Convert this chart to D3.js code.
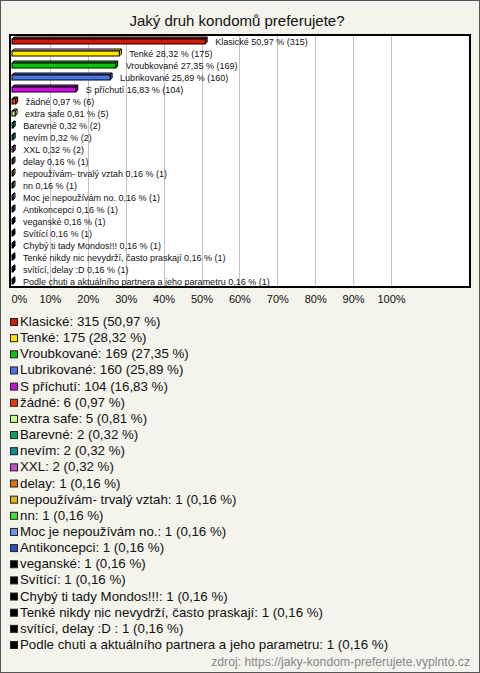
<!DOCTYPE html>
<html><head><meta charset="utf-8">
<script src="https://cdn.jsdelivr.net/npm/d3@7"></script>
<style>body{margin:0;background:#fff}svg{display:block}</style>
</head><body><svg id="c" width="480" height="673"></svg>
<script>
const title = "Jaký druh kondomů preferujete?";
const categories = ["Klasické","Tenké","Vroubkované","Lubrikované","S příchutí","žádné","extra safe","Barevné","nevím","XXL","delay","nepoužívám- trvalý vztah","nn","Moc je nepoužívám no.","Antikoncepci","veganské","Svítící","Chybý ti tady Mondos!!!","Tenké nikdy nic nevydrží, často praskají","svítící, delay :D ","Podle chuti a aktuálního partnera a jeho parametru"];
const counts = [315,175,169,160,104,6,5,2,2,2,1,1,1,1,1,1,1,1,1,1,1];
const percents = ["50,97","28,32","27,35","25,89","16,83","0,97","0,81","0,32","0,32","0,32","0,16","0,16","0,16","0,16","0,16","0,16","0,16","0,16","0,16","0,16","0,16"];
const colors = ["#c41e0c","#ffe600","#12c012","#4a76e4","#c414d6","#e23e12","#c6fc8e","#12a062","#128a98","#c250c4","#e07212","#e6b212","#42e432","#6a98e8","#2a52b8","#000","#000","#000","#000","#000","#000"];
const tickValues = [0,10,20,30,40,50,60,70,80,90,100];
const source = "zdroj: https://jaky-kondom-preferujete.vyplnto.cz";

const svg = d3.select("#c");
const font = "'Liberation Sans', Arial, sans-serif";
svg.append("rect").attr("x",0.5).attr("y",0.5).attr("width",479).attr("height",672)
  .attr("fill","#f4f3ec").attr("stroke","#555");
svg.append("text").attr("x",237).attr("y",26).attr("text-anchor","middle")
  .attr("font-family",font).attr("font-size",15).attr("fill","#111").text(title);

const x = d3.scaleLinear().domain([0,100]).range([12,391]);
const y = d3.scaleBand().domain(categories).range([35,287]);
const pct = percents.map(p => +p.replace(",", "."));

svg.append("rect").attr("x",10).attr("y",35).attr("width",460).attr("height",252).attr("fill","#fff");
svg.append("g").selectAll("line").data(tickValues.slice(1)).join("line")
  .attr("x1",d=>Math.round(x(d))+0.5).attr("x2",d=>Math.round(x(d))+0.5)
  .attr("y1",35).attr("y2",287).attr("stroke","#c4c4c4");

const d = 2;
const g = svg.append("g");
categories.forEach((c,i) => {
  const cy = y(c) + y.bandwidth()/2;
  const x0 = x(0), x1 = Math.max(x(pct[i]), x0+1);
  const top = cy - 2, bot = cy + 3;
  const gg = g.append("g").attr("stroke","#000").attr("stroke-width",1).attr("fill",colors[i]);
  gg.append("polygon").attr("points",[[x0,top],[x0+d,top-d],[x1+d,top-d],[x1,top]].join(" "));
  gg.append("polygon").attr("points",[[x1,top],[x1+d,top-d],[x1+d,bot-d],[x1,bot]].join(" "));
  gg.append("rect").attr("x",x0).attr("y",top).attr("width",x1-x0).attr("height",bot-top);
  g.append("text").attr("x",x1+d+8).attr("y",cy+3.5).attr("font-family",font).attr("font-size",9)
    .attr("fill","#111").text(`${c} ${percents[i]} % (${counts[i]})`);
});
svg.append("rect").attr("x",10).attr("y",35).attr("width",460).attr("height",252)
  .attr("fill","none").attr("stroke","#000").attr("stroke-width",2);

const ax = svg.append("g").attr("transform","translate(0,292)")
  .call(d3.axisBottom(x).tickValues(tickValues).tickSize(0).tickFormat(v=>v+"%"));
ax.select(".domain").remove();
ax.selectAll("text").attr("font-family",font).attr("font-size",11).attr("fill","#111")
  .attr("dy","0.71em");
ax.selectAll(".tick").filter(v=>v===0).select("text").attr("text-anchor","start").attr("x",-1);

const leg = svg.append("g");
categories.forEach((c,i) => {
  const ly = 326 + i*16.15;
  leg.append("rect").attr("x",10.5).attr("y",ly-7.5).attr("width",7).attr("height",7)
    .attr("fill",colors[i]).attr("stroke","#222");
  leg.append("text").attr("x",20).attr("y",ly).attr("font-family",font).attr("font-size",13.3)
    .attr("fill","#111").text(`${c}: ${counts[i]} (${percents[i]} %)`);
});
svg.append("text").attr("x",470).attr("y",666).attr("text-anchor","end").attr("font-family",font)
  .attr("font-size",12.2).attr("fill","#888").text(source);
</script></body></html>
